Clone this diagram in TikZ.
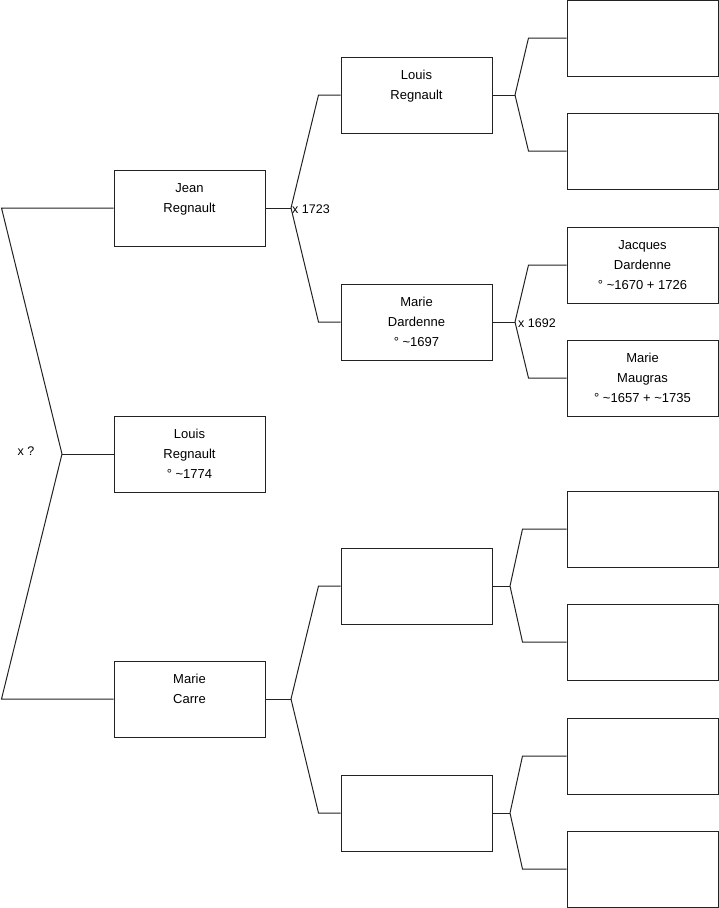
\documentclass[tikz,border=0pt]{standalone}
\usepackage{fontspec}
\setmainfont{Liberation Sans}
\usetikzlibrary{positioning}
\definecolor{ink}{HTML}{222222}
\tikzset{
  person/.style={draw=ink,line width=1pt,fill=white,minimum width=151pt,minimum height=76pt,inner sep=0pt,align=center,text=black,font=\fontsize{13}{20}\selectfont},
  link/.style={draw=ink,line width=1pt},
  wed/.style={font=\fontsize{12.5}{14}\selectfont,inner sep=1pt,text=black},
}
\begin{document}
\begin{tikzpicture}[x=1pt,y=-1pt]
    \useasboundingbox (0,0) rectangle (719,908);
    % generation 1
    \node[person] (me) at (189.5,454) {\strut Louis\\Regnault\\° \textasciitilde1774\strut};
    \node[person] (jean) at (189.5,208) {\strut Jean\\Regnault\\\strut};
    \node[person] (carre) at (189.5,699) {\strut Marie\\Carre\\\strut};
    % generation 2
    \node[person] (louis) at (416.5,95) {\strut Louis\\Regnault\\\strut};
    \node[person] (dard) at (416.5,322) {\strut Marie\\Dardenne\\° \textasciitilde1697\strut};
    \node[person] (p3) at (416.5,586) {};
    \node[person] (p4) at (416.5,813) {};
    % generation 3
    \node[person] (g1) at (642.5,38) {};
    \node[person] (g2) at (642.5,151) {};
    \node[person] (jacq) at (642.5,265) {\strut Jacques\\Dardenne\\° \textasciitilde1670 + 1726\strut};
    \node[person] (maug) at (642.5,378) {\strut Marie\\Maugras\\° \textasciitilde1657 + \textasciitilde1735\strut};
    \node[person] (g5) at (642.5,529) {};
    \node[person] (g6) at (642.5,642) {};
    \node[person] (g7) at (642.5,756) {};
    \node[person] (g8) at (642.5,869) {};
    % forks
    \coordinate (f0) at (62,454);
    \coordinate (f1) at (291,208);
    \coordinate (f2) at (291,699);
    \coordinate (f3) at (515,95);
    \coordinate (f4) at (515,322);
    \coordinate (f5) at (510,586);
    \coordinate (f6) at (510,813);
    \draw[link] (me.west) -- (f0);
    \draw[link] (f0) -- ([xshift=-112pt]jean.west) -- (jean.west);
    \draw[link] (f0) -- ([xshift=-112pt]carre.west) -- (carre.west);
    \draw[link] (jean.east) -- (f1);
    \draw[link] (f1) -- ([xshift=-22pt]louis.west) -- (louis.west);
    \draw[link] (f1) -- ([xshift=-22pt]dard.west) -- (dard.west);
    \draw[link] (carre.east) -- (f2);
    \draw[link] (f2) -- ([xshift=-22pt]p3.west) -- (p3.west);
    \draw[link] (f2) -- ([xshift=-22pt]p4.west) -- (p4.west);
    \draw[link] (louis.east) -- (f3);
    \draw[link] (f3) -- ([xshift=-38pt]g1.west) -- (g1.west);
    \draw[link] (f3) -- ([xshift=-38pt]g2.west) -- (g2.west);
    \draw[link] (dard.east) -- (f4);
    \draw[link] (f4) -- ([xshift=-38pt]jacq.west) -- (jacq.west);
    \draw[link] (f4) -- ([xshift=-38pt]maug.west) -- (maug.west);
    \draw[link] (p3.east) -- (f5);
    \draw[link] (f5) -- ([xshift=-44pt]g5.west) -- (g5.west);
    \draw[link] (f5) -- ([xshift=-44pt]g6.west) -- (g6.west);
    \draw[link] (p4.east) -- (f6);
    \draw[link] (f6) -- ([xshift=-44pt]g7.west) -- (g7.west);
    \draw[link] (f6) -- ([xshift=-44pt]g8.west) -- (g8.west);
    % marriages
    \node[wed] (m0) at (26,451) {x ?};
    \node[wed,anchor=west] (m1) at ([yshift=-1pt]f1) {x 1723};
    \node[wed,anchor=west] (m2) at ([xshift=2pt,yshift=-1pt]f4) {x 1692};
\end{tikzpicture}
\end{document}
